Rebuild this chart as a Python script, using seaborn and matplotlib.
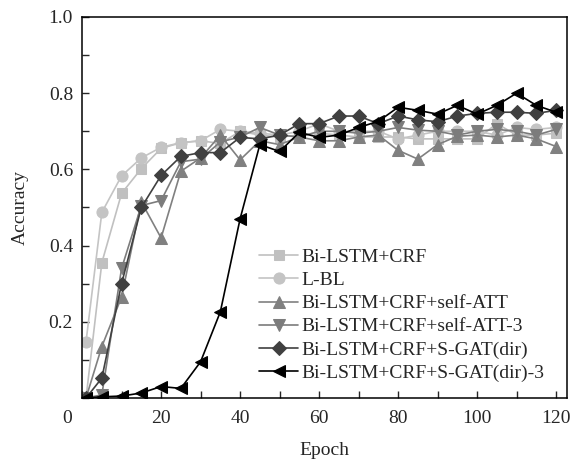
import numpy as np
import pandas as pd
import seaborn as sns
import matplotlib.pyplot as plt
from matplotlib.ticker import MultipleLocator

# datos
epochs = [1, 5, 10, 15, 20, 25, 30, 35, 40, 45, 50, 55, 60,
          65, 70, 75, 80, 85, 90, 95, 100, 105, 110, 115, 120]

bilstm_crf = [0.0, 0.355, 0.537, 0.602, 0.655, 0.67, 0.675, 0.668, 0.70, 0.69,
              0.685, 0.69, 0.695, 0.69, 0.685, 0.685, 0.685, 0.68, 0.68, 0.68,
              0.68, 0.72, 0.69, 0.69, 0.695]
l_bl = [0.148, 0.487, 0.583, 0.63, 0.658, 0.67, 0.675, 0.705, 0.70, 0.695,
        0.69, 0.70, 0.72, 0.70, 0.70, 0.70, 0.68, 0.69, 0.70, 0.70,
        0.70, 0.69, 0.71, 0.705, 0.71]
self_att = [0.0, 0.135, 0.265, 0.515, 0.42, 0.595, 0.63, 0.69, 0.625, 0.675,
            0.665, 0.685, 0.675, 0.675, 0.685, 0.69, 0.65, 0.627, 0.665, 0.687,
            0.69, 0.685, 0.69, 0.68, 0.66]
self_att3 = [0.0, 0.008, 0.34, 0.505, 0.518, 0.62, 0.627, 0.672, 0.685, 0.71,
             0.69, 0.685, 0.70, 0.70, 0.695, 0.70, 0.71, 0.703, 0.70, 0.69,
             0.70, 0.705, 0.70, 0.69, 0.705]
sgat = [0.0, 0.052, 0.30, 0.50, 0.584, 0.634, 0.644, 0.644, 0.684, 0.68,
        0.69, 0.72, 0.72, 0.74, 0.74, 0.72, 0.74, 0.73, 0.725, 0.74,
        0.747, 0.75, 0.75, 0.747, 0.755]
sgat3 = [0.0, 0.003, 0.005, 0.013, 0.03, 0.025, 0.095, 0.226, 0.47, 0.665,
         0.647, 0.697, 0.684, 0.69, 0.71, 0.726, 0.763, 0.755, 0.745, 0.768,
         0.745, 0.768, 0.80, 0.768, 0.75]

names = ['Bi-LSTM+CRF', 'L-BL', 'Bi-LSTM+CRF+self-ATT', 'Bi-LSTM+CRF+self-ATT-3',
         'Bi-LSTM+CRF+S-GAT(dir)', 'Bi-LSTM+CRF+S-GAT(dir)-3']
series = [bilstm_crf, l_bl, self_att, self_att3, sgat, sgat3]
colors = ['#c0c0c0', '#c4c4c4', '#808080', '#7c7c7c', '#404040', '#000000']
marks = ['s', 'o', '^', 'v', 'D', '<']
msizes = [7, 8, 9, 9, 7.5, 9]

df = pd.DataFrame({
    'Epoch': epochs * len(names),
    'Accuracy': sum(series, []),
    'modelo': np.repeat(names, len(epochs)),
})

sns.set_style('ticks')
plt.rcParams['font.family'] = ['Liberation Serif', 'DejaVu Serif']

fig = plt.figure(figsize=(5.7, 4.59), dpi=100)
ax = fig.add_axes([0.144, 0.133, 0.851, 0.830])

for nm, c, m, ms in zip(names, colors, marks, msizes):
    sub = df[df['modelo'] == nm]
    sns.lineplot(data=sub, x='Epoch', y='Accuracy', ax=ax, color=c, marker=m,
                 markersize=ms, markeredgecolor=c, linewidth=1.2, label=nm)

ax.set_xlim(0, 122.8)
ax.set_ylim(0, 1.0)
ax.set_xticks([20, 40, 60, 80, 100, 120])
ax.xaxis.set_minor_locator(MultipleLocator(10))
ax.set_yticks([0.2, 0.4, 0.6, 0.8, 1.0])
ax.yaxis.set_minor_locator(MultipleLocator(0.1))
ax.tick_params(which='both', direction='in', length=5, width=1, labelsize=14,
               top=False, right=False)
ax.tick_params(axis='x', which='major', pad=8.5)
ax.tick_params(axis='y', which='major', pad=6.5)
for sp in ax.spines.values():
    sp.set_linewidth(1.1)
    sp.set_color('black')

# el "0" del origen va un poco a la izquierda como en la figura
ax.annotate('0', xy=(0, 0), xycoords=('data', 'axes fraction'), xytext=(-11, -8.5),
            textcoords='offset points', ha='center', va='top', fontsize=14)

ax.set_xlabel('Epoch', fontsize=14, labelpad=11)
ax.set_ylabel('Accuracy', fontsize=14, labelpad=14)

ax.legend(loc='upper left', bbox_to_anchor=(0.365, 0.392), frameon=False,
          fontsize=14, handlelength=2.0, handletextpad=0.15, labelspacing=0.28,
          borderpad=0, borderaxespad=0)

plt.savefig('out.png', dpi=100)
